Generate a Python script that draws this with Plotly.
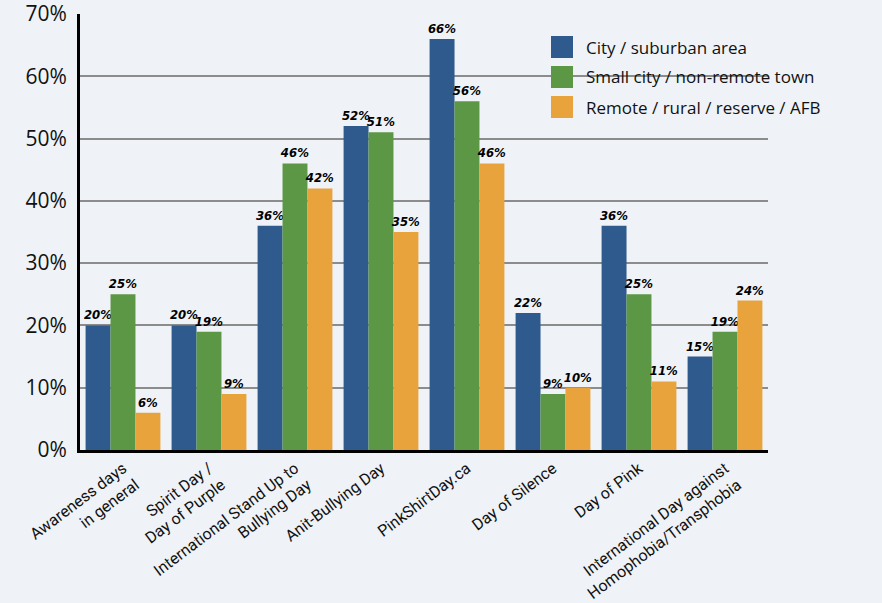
import plotly.graph_objects as go

categories = [
    "Awareness days<br>in general",
    "Spirit Day /<br>Day of Purple",
    "International Stand Up to<br>Bullying Day",
    "Anit-Bullying Day",
    "PinkShirtDay.ca",
    "Day of Silence",
    "Day of Pink",
    "International Day against<br>Homophobia/Transphobia",
]
city = [20, 20, 36, 52, 66, 22, 36, 15]
small_city = [25, 19, 46, 51, 56, 9, 25, 19]
remote = [6, 9, 42, 35, 46, 10, 11, 24]

series = [
    ("City / suburban area", city, "#2e5a8e"),
    ("Small city / non-remote town", small_city, "#5c9745"),
    ("Remote / rural / reserve / AFB", remote, "#e8a33d"),
]

fig = go.Figure()
for name, vals, color in series:
    fig.add_trace(go.Bar(
        x=categories,
        y=vals,
        name=name,
        marker=dict(color=color, line=dict(width=0)),
        text=[f"{v}%" for v in vals],
        textposition="outside",
        constraintext="none",
        textfont=dict(family="DejaVu Sans Condensed, DejaVu Sans", size=13,
                      color="black", style="italic", weight="bold"),
        cliponaxis=False,
        showlegend=False,
    ))

# legend drawn by hand: large squares like the original
shapes = []
annotations = []
for i, (name, vals, color) in enumerate(series):
    yc = 47 + 30 * i
    shapes.append(dict(type="rect", xref="paper", yref="paper",
                       x0=(551 - 80) / 688, x1=(573 - 80) / 688,
                       y0=1 - (yc + 11 - 14) / 436, y1=1 - (yc - 11 - 14) / 436,
                       fillcolor=color, line=dict(width=0)))
    annotations.append(dict(xref="paper", yref="paper",
                            x=(584 - 80) / 688, y=1 - (yc - 14) / 436,
                            xanchor="left", yanchor="middle", showarrow=False,
                            text=name, font=dict(size=17, family="Open Sans", color="#111")))

fig.update_layout(
    width=882,
    height=603,
    paper_bgcolor="#eff3f7",
    plot_bgcolor="#eff3f7",
    barmode="group",
    bargap=0.13,
    bargroupgap=0,
    margin=dict(l=80, r=114, t=14, b=153),
    font=dict(family="Open Sans", color="#111"),
    shapes=shapes,
    annotations=annotations,
    xaxis=dict(
        tickangle=-37,
        tickfont=dict(family="Roboto", size=16, color="#111"),
        showline=True, linecolor="black", linewidth=3,
        ticks="",
        automargin=False,
    ),
    yaxis=dict(
        range=[0, 70],
        dtick=10,
        ticksuffix="%",
        tickfont=dict(size=21, color="#111"),
        ticklabelstandoff=6,
        ticklabeloverflow="allow",
        showgrid=True, gridcolor="#8c8c8c", gridwidth=2,
        showline=True, linecolor="black", linewidth=3,
        zeroline=False,
        ticks="",
        automargin=False,
    ),
)

fig.write_html(
    "out.html",
    config={"displayModeBar": False},
    post_script="document.body.style.margin='0';document.body.style.background='#eff3f7';",
)
